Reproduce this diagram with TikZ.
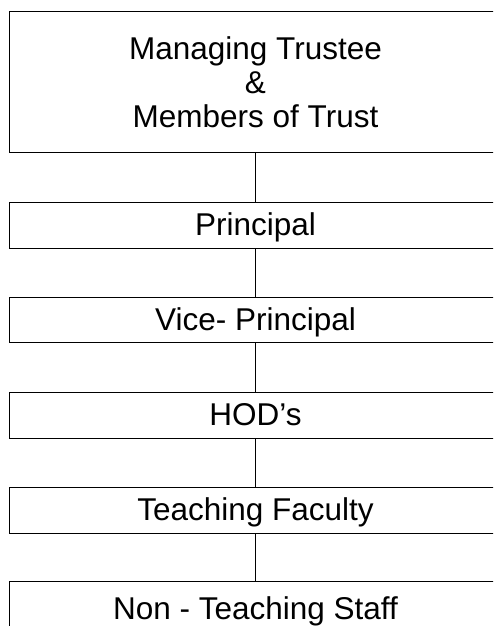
\documentclass[tikz,border=0pt]{standalone}
\usepackage{fontspec}
\setmainfont{Liberation Sans}
\begin{document}
\begin{tikzpicture}[x=1pt,y=1pt,
  box/.style={draw=black,line width=1pt,rectangle,minimum width=491.6pt,inner sep=0pt,
    font=\fontsize{31.5}{34}\selectfont},
  onebox/.style={box,minimum height=45.7pt,text height=22.5pt,text depth=1pt},
  conn/.style={draw=black,line width=1pt}]
\useasboundingbox (0,0) rectangle (493,-626);
\fill[white] (0,0) rectangle (493,-626);
\clip (0,0) rectangle (493,-626);
\node[box,minimum height=141.4pt,align=center] (trust) at (255.5,-82) {Managing Trustee\\\&\\Members of Trust};
\node[onebox] (prin) at (255.5,-225.15) {Principal};
\node[onebox] (vice) at (255.5,-320.05) {Vice- Principal};
\node[onebox] (hod) at (255.5,-415.15) {HOD’s};
\node[onebox] (teach) at (255.5,-510.15) {Teaching Faculty};
\node[onebox,minimum height=54pt] (non) at (255.5,-608.7) {Non - Teaching Staff};
\draw[conn] (trust) -- (prin);
\draw[conn] (prin) -- (vice);
\draw[conn] (vice) -- (hod);
\draw[conn] (hod) -- (teach);
\draw[conn] (teach) -- (non);
\end{tikzpicture}
\end{document}
